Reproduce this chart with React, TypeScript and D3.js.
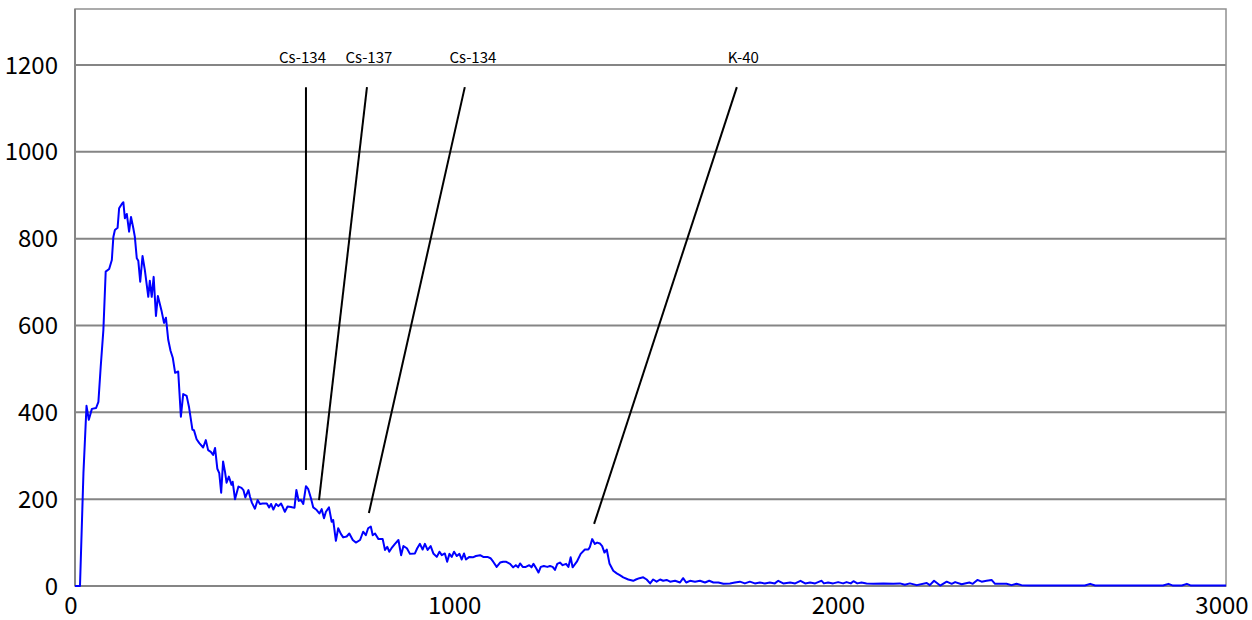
import * as d3 from 'd3';
import React from 'react';

// spectrum: energy (x) and counts (y)
const energies = [
  0, 13, 22, 30, 36, 44, 55, 61, 67, 74, 80, 89, 96, 100, 104, 111, 115, 122, 126, 130,
  135, 141, 146, 152, 156, 161, 165, 170, 176, 182, 191, 195, 200, 205, 211, 216, 226, 232, 237, 243,
  249, 255, 261, 269, 276, 282, 291, 297, 306, 310, 317, 324, 334, 341, 347, 354, 360, 365, 371, 376,
  381, 386, 391, 395, 401, 408, 411, 417, 426, 434, 439, 444, 452, 456, 461, 469, 476, 482, 489, 500,
  506, 511, 517, 524, 530, 537, 541, 547, 554, 563, 572, 577, 583, 589, 595, 602, 608, 615, 621, 630,
  637, 643, 649, 654, 662, 669, 673, 680, 686, 693, 699, 708, 715, 724, 732, 743, 751, 758, 764, 771,
  776, 782, 791, 802, 808, 814, 819, 825, 834, 843, 850, 856, 865, 873, 886, 892, 899, 906, 912, 919,
  927, 934, 943, 950, 956, 964, 970, 976, 982, 988, 995, 1002, 1008, 1014, 1019, 1028, 1037, 1045, 1056, 1064,
  1075, 1083, 1090, 1099, 1108, 1116, 1123, 1134, 1142, 1149, 1155, 1160, 1167, 1175, 1184, 1190, 1195, 1202, 1208, 1214,
  1222, 1231, 1238, 1245, 1251, 1257, 1264, 1271, 1280, 1286, 1292, 1297, 1308, 1318, 1329, 1338, 1342, 1348, 1355, 1361,
  1368, 1374, 1380, 1386, 1393, 1403, 1412, 1420, 1429, 1442, 1455, 1462, 1471, 1481, 1490, 1499, 1507, 1516, 1525, 1533,
  1542, 1551, 1564, 1577, 1585, 1593, 1603, 1616, 1629, 1642, 1653, 1664, 1677, 1690, 1707, 1720, 1733, 1746, 1759, 1772,
  1785, 1798, 1811, 1824, 1833, 1846, 1864, 1877, 1891, 1903, 1916, 1929, 1940, 1946, 1952, 1963, 1976, 1989, 2002, 2011,
  2022, 2029, 2039, 2050, 2063, 2081, 2107, 2133, 2150, 2163, 2176, 2194, 2220, 2228, 2239, 2255, 2272, 2285, 2294, 2311,
  2331, 2340, 2352, 2363, 2376, 2389, 2398, 2428, 2441, 2454, 2467, 2489, 2632, 2646, 2659, 2836, 2850, 2862, 2885, 2898,
  2909, 3000,
];
const counts = [
  0, 0, 260, 415, 383, 408, 410, 424, 505, 590, 724, 730, 751, 804, 820, 825, 870, 880, 884, 847,
  857, 816, 850, 824, 804, 755, 749, 701, 760, 728, 666, 703, 666, 712, 622, 668, 632, 606, 618, 567,
  542, 525, 491, 494, 390, 442, 438, 413, 360, 359, 338, 329, 319, 336, 313, 309, 302, 318, 270, 260,
  215, 287, 263, 238, 252, 233, 240, 200, 229, 226, 221, 204, 221, 206, 192, 178, 198, 189, 190, 190,
  181, 189, 176, 189, 184, 190, 183, 171, 183, 182, 180, 221, 196, 198, 189, 230, 223, 202, 181, 175,
  167, 177, 156, 171, 181, 148, 152, 104, 133, 120, 112, 114, 121, 106, 100, 106, 125, 117, 133, 137,
  117, 121, 108, 108, 83, 90, 79, 87, 97, 106, 71, 92, 87, 74, 75, 87, 97, 84, 97, 83,
  92, 75, 67, 79, 71, 75, 56, 74, 67, 79, 69, 74, 61, 75, 61, 67, 66, 69, 71, 67,
  67, 64, 56, 44, 54, 56, 56, 51, 43, 48, 43, 52, 44, 44, 48, 43, 51, 41, 31, 44,
  46, 44, 46, 44, 37, 51, 54, 48, 51, 44, 66, 43, 56, 74, 84, 84, 90, 108, 97, 100,
  98, 92, 77, 84, 52, 35, 29, 25, 20, 15, 12, 15, 18, 20, 15, 6, 15, 10, 15, 12,
  14, 10, 12, 8, 18, 8, 12, 10, 12, 8, 12, 8, 8, 5, 6, 8, 10, 6, 10, 6,
  8, 6, 8, 6, 12, 6, 8, 6, 12, 6, 8, 6, 10, 12, 6, 8, 6, 9, 6, 9,
  6, 11, 6, 8, 6, 5, 6, 5, 6, 3, 6, 2, 7, 2, 12, 1, 10, 5, 9, 4,
  8, 5, 14, 10, 12, 14, 5, 5, 2, 5, 2, 1, 1, 5, 1, 1, 5, 1, 1, 5,
  1, 1,
];

// nuclide markers: label, label x, leader line top/bottom (energy, counts)
const peakLabels = ['Cs-134', 'Cs-137', 'Cs-134', 'K-40'];
const labelX = [593, 766, 1037, 1742];
const labelY = 1205;
const leaderTop = [[602, 1149], [761, 1149], [1016, 1149], [1725, 1149]];
const leaderBottom = [[602, 267], [636, 198], [766, 168], [1353, 143]];

const xTicks = [0, 1000, 2000, 3000];
const yTicks = [0, 200, 400, 600, 800, 1000, 1200];

const W = 1252;
const H = 620;
const plot = { left: 75, right: 1226, top: 9, bottom: 586 };
const font = '"Noto Sans CJK JP", "Noto Sans", sans-serif';

export default function App() {
  const x = d3.scaleLinear().domain([0, 3000]).range([plot.left, plot.right]);
  const y = d3.scaleLinear().domain([0, 1329]).range([plot.bottom, plot.top]);

  const line = d3.line<number>()
    .x((d, i) => x(energies[i]))
    .y(d => y(d));

  return (
    <svg width={W} height={H} style={{ position: 'absolute', left: 0, top: 0, background: '#fff' }}>
      {/* grid */}
      {yTicks.filter(t => t > 0).map(t => (
        <line key={t} x1={plot.left} x2={plot.right} y1={y(t)} y2={y(t)} stroke="#858585" strokeWidth={2} />
      ))}
      <rect x={plot.left} y={plot.top} width={plot.right - plot.left} height={plot.bottom - plot.top}
        fill="none" stroke="#909090" strokeWidth={1.5} />
      <line x1={plot.left} x2={plot.left} y1={plot.top} y2={plot.bottom} stroke="#858585" strokeWidth={2} />
      <line x1={plot.left} x2={plot.right} y1={plot.bottom} y2={plot.bottom} stroke="#858585" strokeWidth={2} />

      {/* leader lines */}
      {leaderTop.map((t, i) => (
        <line key={i} x1={x(t[0])} y1={y(t[1])} x2={x(leaderBottom[i][0])} y2={y(leaderBottom[i][1])}
          stroke="#000" strokeWidth={2} />
      ))}

      <path d={line(counts) || ''} fill="none" stroke="#0000ff" strokeWidth={2} strokeLinejoin="round" />

      {peakLabels.map((s, i) => (
        <text key={i} x={x(labelX[i])} y={y(labelY)} textAnchor="middle" fontFamily={font} fontSize={15}
          fill="#000">{s}</text>
      ))}

      {yTicks.map(t => (
        <text key={t} x={58} y={y(t)} dy="0.36em" textAnchor="end" fontFamily={font} fontSize={24} fill="#000">{t}</text>
      ))}
      {xTicks.map(t => (
        <text key={t} x={x(t) - 4} y={614} textAnchor="middle" fontFamily={font} fontSize={24} fill="#000">{t}</text>
      ))}
    </svg>
  );
}
